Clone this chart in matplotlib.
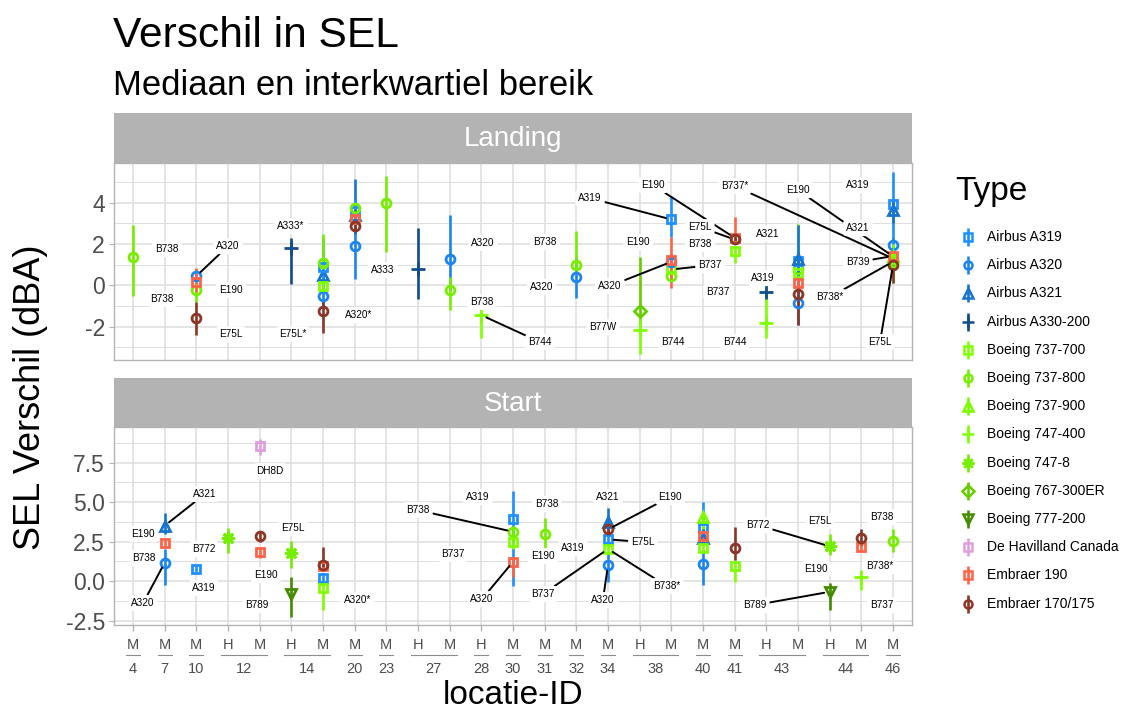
import matplotlib
matplotlib.use("Agg")
import matplotlib.pyplot as plt
import matplotlib.transforms as mtransforms

plt.rcParams['font.family'] = ['Liberation Sans', 'DejaVu Sans']
plt.rcParams['axes.unicode_minus'] = False

# x-as: locatie-ID met meetpunt (H/M)
locaties = ['4', '7', '10', '12', '12', '14', '14', '20', '23', '27', '27', '28', '30',
            '31', '32', '34', '38', '38', '40', '41', '43', '43', '44', '44', '46']
meetpunt = ['M', 'M', 'M', 'H', 'M', 'H', 'M', 'M', 'M', 'H', 'M', 'H', 'M',
            'M', 'M', 'M', 'H', 'M', 'M', 'M', 'H', 'M', 'H', 'M', 'M']
cats = [l + m for l, m in zip(locaties, meetpunt)]

# vliegtuigtypes (legenda)
type_codes = ['A319', 'A320', 'A321', 'A332', 'B737', 'B738', 'B739', 'B744',
              'B748', 'B763', 'B772', 'DH8', 'E190', 'E175']
type_namen = ['Airbus A319', 'Airbus A320', 'Airbus A321', 'Airbus A330-200',
              'Boeing 737-700', 'Boeing 737-800', 'Boeing 737-900', 'Boeing 747-400',
              'Boeing 747-8', 'Boeing 767-300ER', 'Boeing 777-200', 'De Havilland Canada',
              'Embraer 190', 'Embraer 170/175']
kleuren = ['#1E90FF', '#1C86EE', '#1874CD', '#104E8B',
           '#7FFF00', '#76EE00', '#7CFC00', '#7FFF00',
           '#76EE00', '#66CD00', '#458B00', '#DDA0DD',
           '#FF6347', '#8B3626']
markers = ['s', 'o', '^', '+', 's', 'o', '^', '+', (8, 2, 0), 'D', 'v', 's', 's', 'o']

# Landing: mediaan en interkwartiel bereik
land_cat = ['4M', '10M', '10M', '10M', '10M', '14H', '14M', '14M', '14M', '14M', '14M', '14M',
            '20M', '20M', '20M', '20M', '20M', '20M', '23M', '27H', '27M', '27M', '28H', '28H',
            '32M', '32M', '38H', '38H', '38M', '38M', '38M', '38M', '38M', '41M', '41M', '41M',
            '43H', '43H', '43M', '43M', '43M', '43M', '43M', '43M', '43M',
            '46M', '46M', '46M', '46M', '46M', '46M', '46M', '46M']
land_type = ['B738', 'A320', 'B738', 'E190', 'E175', 'A332', 'A320', 'A321', 'A319', 'B738', 'B737', 'E175',
             'A320', 'A321', 'A319', 'B738', 'E190', 'E175', 'B738', 'A332', 'A320', 'B738', 'B738', 'B744',
             'A320', 'B738', 'B763', 'B744', 'A319', 'B738', 'B737', 'A320', 'E190', 'B737', 'E190', 'E175',
             'A332', 'B744', 'A320', 'B738', 'B737', 'A319', 'A321', 'E190', 'E175',
             'A319', 'A321', 'A320', 'B737', 'B738', 'B739', 'E190', 'E175']
land_med = [1.38, 0.45, -0.2, 0.17, -1.6, 1.79, -0.52, 0.5, 0.87, 1.09, -0.03, -1.24,
            1.9, 3.4, 3.6, 3.75, 3.2, 2.87, 4.0, 0.8, 1.3, -0.2, -0.75, -1.44,
            0.42, 1.0, -1.24, -2.16, 3.19, 0.45, 0.77, 1.14, 1.22, 1.66, 2.3, 2.22,
            -0.33, -1.84, -0.84, 0.77, 0.62, 1.2, 1.26, 0.1, -0.42,
            3.95, 3.64, 1.95, 1.3, 1.15, 1.42, 1.4, 0.98]
land_q1 = [-0.5, 0.2, -0.8, -0.3, -2.4, 0.06, -1.0, -0.2, 0.3, 0.6, -0.3, -2.3,
           0.3, 2.5, 3.0, 3.4, 2.9, 2.6, 1.63, -0.66, -0.2, -1.2, -0.95, -2.55,
           -0.63, 0.74, -1.9, -3.3, 2.35, 0.2, 0.5, 0.9, -0.15, 1.06, 2.1, 2.0,
           -0.4, -2.56, -1.92, 0.4, 0.3, 0.8, -0.3, -0.2, -1.92,
           2.2, 3.0, 1.5, 1.0, 0.5, 0.1, 1.1, 0.1]
land_q3 = [2.9, 0.75, 0.0, 0.83, -0.8, 2.27, 2.27, 1.6, 1.5, 2.5, 0.3, -0.7,
           3.0, 5.14, 4.2, 3.9, 3.5, 3.1, 5.3, 2.77, 3.4, 0.42, -0.4, -1.44,
           1.38, 2.63, 1.38, -1.5, 4.3, 0.7, 1.0, 1.4, 2.35, 1.84, 3.3, 2.4,
           -0.33, -0.31, 0.5, 2.95, 0.9, 1.6, 2.9, 0.4, -0.1,
           5.5, 4.2, 2.3, 1.6, 1.6, 2.0, 1.6, 1.2]

# Start: mediaan en interkwartiel bereik
start_cat = ['7M', '7M', '7M', '10M', '12H', '12M', '12M', '12M', '14H', '14H',
             '14M', '14M', '14M', '14M', '30M', '30M', '30M', '30M', '31M',
             '34M', '34M', '34M', '34M', '34M', '40M', '40M', '40M', '40M', '40M', '40M',
             '41M', '41M', '44H', '44H', '44M', '44M', '44M', '46M']
start_type = ['A320', 'A321', 'E190', 'A319', 'B748', 'DH8', 'E190', 'E175', 'B748', 'B772',
              'A319', 'B737', 'E190', 'E175', 'A319', 'B737', 'B738', 'E190', 'B738',
              'A320', 'A319', 'A321', 'B737', 'E175', 'A320', 'A319', 'A321', 'B737', 'B739', 'E190',
              'B737', 'E175', 'B748', 'B772', 'B744', 'E190', 'E175', 'B738']
start_med = [1.16, 3.5, 2.42, 0.76, 2.7, 8.56, 1.82, 2.87, 1.75, -0.82,
             0.17, -0.46, 0.97, 1.0, 3.92, 2.45, 3.12, 1.22, 2.97,
             1.01, 2.64, 3.75, 2.03, 3.27, 1.08, 3.33, 2.7, 2.07, 4.07, 2.85,
             0.97, 2.07, 2.2, -0.68, 0.23, 2.17, 2.7, 2.55]
start_q1 = [-0.25, 3.0, 2.2, 0.55, 1.75, 7.97, 1.45, 2.5, 0.8, -2.3,
            -0.2, -1.84, 0.7, 0.9, -0.3, 2.0, 2.5, 0.27, 1.96,
            -0.04, 2.3, 3.0, 1.7, 3.0, -0.25, 2.5, 2.4, 1.8, 3.3, 2.6,
            -0.04, 1.33, 1.64, -1.84, -0.57, 1.9, 2.27, 1.85]
start_q3 = [2.0, 4.3, 2.6, 0.95, 3.34, 9.0, 2.1, 3.2, 2.55, 0.27,
            0.5, 0.0, 1.2, 2.13, 5.7, 2.9, 3.5, 1.54, 4.0,
            1.8, 3.0, 4.6, 2.4, 3.5, 2.0, 5.0, 3.4, 2.4, 4.4, 3.1,
            1.33, 3.44, 3.0, -0.15, 0.27, 2.4, 3.3, 3.27]

# labels (ICAO-code) met hun plek in de grafiek
land_lab_txt = ['B738', 'B738', 'A320', 'E190', 'E75L', 'A333*', 'E75L*', 'A320*', 'A333', 'A320',
                'B738', 'B744', 'B738', 'A320', 'A319', 'E190', 'A320', 'B77W', 'B744', 'E190',
                'E75L', 'B738', 'B737', 'B737', 'B737*', 'A321', 'A319', 'B744', 'E190', 'A319',
                'A321', 'B739', 'B738*', 'E75L']
land_lab_doel = [None, None, ('10M', 'A320'), None, None, None, None, None, None, None,
                 None, ('28H', 'B744'), None, None, ('38M', 'A319'), None, ('38M', 'A320'), None, None, ('41M', 'E190'),
                 ('41M', 'E175'), None, ('38M', 'B737'), None, ('46M', 'B737'), None, None, None, ('46M', 'E190'), None,
                 None, ('46M', 'B739'), ('46M', 'B738'), ('46M', 'E175')]
land_lab_xy = [(1.07, 1.76), (0.92, -0.66), (3.0, 1.9), (3.09, -0.23), (3.09, -2.36), (4.99, 2.87),
               (5.05, -2.36), (7.14, -1.44), (7.89, 0.74), (11.05, 2.05), (11.02, -0.81), (12.85, -2.74),
               (13.01, 2.09), (12.91, -0.08), (14.43, 4.22), (15.95, 2.09), (15.06, -0.03), (14.84, -2.02),
               (17.05, -2.74), (16.42, 4.85), (17.9, 2.82), (17.9, 2.0), (18.22, 0.97), (18.47, -0.32),
               (19.01, 4.8), (20.05, 2.48), (19.89, 0.35), (19.01, -2.74), (21.0, 4.61), (22.89, 4.85),
               (22.89, 2.77), (22.89, 1.13), (22.01, -0.57), (23.59, -2.74)]

start_lab_txt = ['A321', 'E190', 'B738', 'A320', 'B772', 'A319', 'DH8D', 'E190', 'B789', 'E75L',
                 'A320*', 'A319', 'B738', 'B737', 'A320', 'B738', 'E190', 'B737', 'A319', 'A321',
                 'E190', 'E75L', 'B738*', 'A320', 'B772', 'E75L', 'E190', 'B789', 'B738', 'B738*', 'B737']
start_lab_doel = [('7M', 'A321'), None, None, ('7M', 'A320'), None, None, None, None, None, None,
                  None, None, ('30M', 'B738'), None, ('30M', 'E190'), None, None, ('34M', 'B737'), None, None,
                  ('34M', 'E175'), ('34M', 'A319'), ('34M', 'B737'), ('34M', 'A320'), ('44H', 'B748'), None, None,
                  ('44H', 'B772'), None, None, None]
start_lab_xy = [(2.27, 5.51), (0.32, 2.97), (0.35, 1.46), (0.32, -1.39), (2.24, 2.03), (2.24, -0.44),
                (4.33, 6.96), (4.2, 0.38), (3.92, -1.52), (5.05, 3.35), (7.1, -1.2), (10.89, 5.32),
                (9.0, 4.49), (10.1, 1.71), (11.02, -1.14), (13.07, 4.87), (12.95, 1.58), (12.95, -0.82),
                (13.89, 2.09), (15.0, 5.32), (16.96, 5.32), (16.1, 2.47), (16.86, -0.32), (14.84, -1.2),
                (19.73, 3.54), (21.69, 3.8), (21.57, 0.76), (19.64, -1.52), (23.65, 4.05), (23.59, 0.95),
                (23.65, -1.52)]

W, H = 1133, 711
fig = plt.figure(figsize=(W / 100, H / 100), dpi=100)

GRID = '#DEDEDE'
RAND = '#B3B3B3'
TXT = '#4D4D4D'


def px_rect(x0, y0, x1, y1):
    return [x0 / W, 1 - y1 / H, (x1 - x0) / W, (y1 - y0) / H]


def marker_maat(mk):
    if mk in ('^', 'v'):
        return 7.6
    if mk == 'D':
        return 6.4
    if mk in ('+', (8, 2, 0)):
        return 9.5
    return 6.4


def teken_punten(ax, cat, typ, med, q1, q3):
    for c, t, m, lo, hi in zip(cat, typ, med, q1, q3):
        x = cats.index(c)
        i = type_codes.index(t)
        ax.plot([x, x], [lo, hi], color=kleuren[i], lw=1.9, solid_capstyle='butt', zorder=3)
        ax.plot(x, m, marker=markers[i], ms=marker_maat(markers[i]), mfc='none',
                mec=kleuren[i], mew=2.0, zorder=4)


def teken_labels(ax, teksten, doelen, posities, cat, typ, med):
    # eerst de lijnstukken, daarna alle labels erboven
    for tekst, doel, (lx, ly) in zip(teksten, doelen, posities):
        if doel is None:
            continue
        j = [k for k in range(len(cat)) if cat[k] == doel[0] and typ[k] == doel[1]][0]
        ax.annotate(tekst, xy=(cats.index(doel[0]), med[j]), xytext=(lx, ly),
                    fontsize=7.2, color='none', ha='center', va='center', zorder=5,
                    bbox=dict(boxstyle='round,pad=0.3', fc='none', ec='none'),
                    arrowprops=dict(arrowstyle='-', color='black', lw=1.4, shrinkA=0, shrinkB=4))
    for tekst, (lx, ly) in zip(teksten, posities):
        ax.text(lx, ly, tekst, fontsize=7.2, ha='center', va='center', zorder=6,
                bbox=dict(boxstyle='round,pad=0.3', fc='white', ec='none'))


def maak_panel(rect, strip_rect, titel, ylim, yt, ytl, ymin):
    ax = fig.add_axes(rect)
    ax.set_xlim(-0.6, len(cats) - 0.4)
    ax.set_ylim(*ylim)
    ax.set_xticks(range(len(cats)))
    ax.set_yticks(yt)
    ax.set_yticklabels(ytl)
    ax.set_yticks(ymin, minor=True)
    ax.grid(True, which='major', color=GRID, lw=1.1, zorder=0)
    ax.grid(True, which='minor', axis='y', color=GRID, lw=0.7, zorder=0)
    ax.set_axisbelow(True)
    for s in ax.spines.values():
        s.set_color(RAND)
        s.set_linewidth(1.0)
    ax.tick_params(axis='y', which='major', length=3.5, color=RAND, labelsize=16.5,
                   labelcolor=TXT, pad=3)
    ax.tick_params(axis='y', which='minor', length=0)
    ax.tick_params(axis='x', length=0, labelbottom=False)
    sax = fig.add_axes(strip_rect)
    sax.set_facecolor(RAND)
    sax.set_xticks([])
    sax.set_yticks([])
    for s in sax.spines.values():
        s.set_visible(False)
    sax.text(0.5, 0.47, titel, color='white', fontsize=20, ha='center', va='center',
             transform=sax.transAxes)
    return ax


ax1 = maak_panel(px_rect(114, 163, 912, 360), px_rect(114, 113, 912, 163), 'Landing',
                 (-3.61, 5.92), [-2, 0, 2, 4], ['-2', '0', '2', '4'], [-3, -1, 1, 3, 5])
ax2 = maak_panel(px_rect(114, 427, 912, 625), px_rect(114, 378, 912, 427), 'Start',
                 (-2.78, 9.75), [-2.5, 0, 2.5, 5, 7.5], ['-2.5', '0.0', '2.5', '5.0', '7.5'],
                 [-1.25, 1.25, 3.75, 6.25, 8.75])

teken_punten(ax1, land_cat, land_type, land_med, land_q1, land_q3)
teken_punten(ax2, start_cat, start_type, start_med, start_q1, start_q3)
teken_labels(ax1, land_lab_txt, land_lab_doel, land_lab_xy, land_cat, land_type, land_med)
teken_labels(ax2, start_lab_txt, start_lab_doel, start_lab_xy, start_cat, start_type, start_med)

# geneste x-as: H/M onder elke positie, locatie-ID eronder
ax2.tick_params(axis='x', length=4, color=RAND, width=1.0)
tr = mtransforms.blended_transform_factory(ax2.transData, fig.transFigure)
for i, m in enumerate(meetpunt):
    fig.text(i, 1 - 645 / H, m, transform=tr, ha='center', va='center', fontsize=10.5, color=TXT)
groepen = []
for i, l in enumerate(locaties):
    if groepen and groepen[-1][0] == l:
        groepen[-1][2] = i
    else:
        groepen.append([l, i, i])
for l, a, b in groepen:
    ax2.plot([a - 0.22, b + 0.22], [1 - 655 / H] * 2, transform=tr, color='#8C8C8C', lw=0.8,
             clip_on=False)
    fig.text((a + b) / 2, 1 - 669 / H, l, transform=tr, ha='center', va='center',
             fontsize=10.5, color=TXT)

# titels en astitels
fig.text(113 / W, 1 - 47 / H, 'Verschil in SEL', fontsize=30.6, ha='left', va='baseline')
fig.text(113 / W, 1 - 95 / H, 'Mediaan en interkwartiel bereik', fontsize=24.9,
         ha='left', va='baseline')
fig.text(513 / W, 1 - 704 / H, 'locatie-ID', fontsize=24, ha='center', va='baseline')
fig.text(31 / W, 1 - 397 / H, 'SEL Verschil (dBA)', fontsize=26, ha='center', va='center',
         rotation=90)

# legenda
lax = fig.add_axes([0, 0, 1, 1])
lax.set_xlim(0, W)
lax.set_ylim(H, 0)
lax.axis('off')
lax.text(955, 200, 'Type', fontsize=24, ha='left', va='baseline')
for i, naam in enumerate(type_namen):
    y = 237 + i * 28.2
    lax.plot([968, 968], [y - 9, y + 9], color=kleuren[i], lw=1.9, solid_capstyle='butt')
    lax.plot(968, y, marker=markers[i], ms=marker_maat(markers[i]) * 0.9, mfc='none',
             mec=kleuren[i], mew=1.8)
    lax.text(987, y, naam, fontsize=10, ha='left', va='center')

fig.savefig('out.png', dpi=100)
